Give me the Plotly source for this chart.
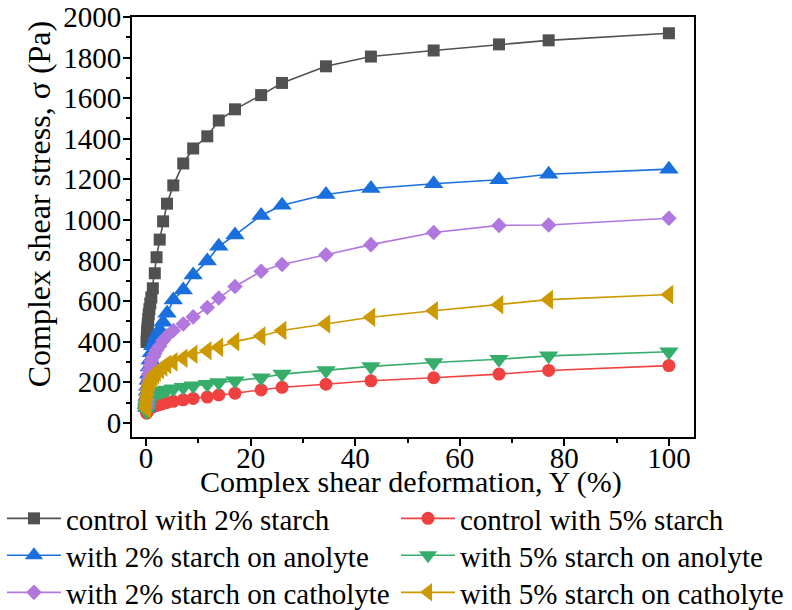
import plotly.graph_objects as go

# Shear strain amplitude sweep (%), shared by all samples
strain = [0.1, 0.126, 0.158, 0.2, 0.251, 0.316, 0.398, 0.501, 0.631, 0.794,
          1.0, 1.28, 1.66, 2.0, 2.6, 3.25, 4.0, 5.2, 7.1, 9.0,
          11.7, 13.9, 17.0, 22.0, 26.0, 34.4, 43.0, 55.0, 67.5, 77.0, 100.0]

# Complex shear stress (Pa) for each sample
control_2 = [398, 412, 428, 445, 465, 487, 510, 535, 560, 588,
             618, 663, 737, 816, 903, 993, 1080, 1170, 1278, 1352,
             1412, 1490, 1545, 1615, 1675, 1757, 1805, 1835, 1865, 1885, 1920]
control_5 = [48, 50, 53, 56, 59, 62, 65, 68, 71, 74,
             77, 80, 83, 86, 90, 95, 100, 106, 113, 120,
             127, 137, 146, 162, 175, 190, 207, 222, 240, 258, 282]
anolyte_2 = [75, 90, 110, 130, 155, 180, 210, 240, 275, 310,
             345, 380, 405, 430, 458, 495, 540, 605, 655, 728,
             798, 870, 925, 1022, 1072, 1125, 1155, 1178, 1198, 1225, 1250]
anolyte_5 = [55, 62, 70, 78, 86, 94, 102, 110, 117, 124,
             130, 136, 141, 146, 152, 157, 162, 168, 175, 182,
             190, 198, 207, 222, 240, 258, 278, 297, 313, 330, 350]
catholyte_2 = [75, 95, 115, 140, 165, 190, 215, 240, 262, 285,
               305, 322, 340, 358, 378, 405, 428, 455, 487, 522,
               568, 615, 672, 747, 780, 828, 878, 938, 973, 975, 1008]
catholyte_5 = [68, 80, 95, 110, 125, 140, 155, 170, 185, 198,
               210, 225, 238, 250, 262, 275, 288, 300, 318, 338,
               355, 372, 400, 428, 455, 487, 520, 552, 582, 607, 632]

# (label, values, colour, marker symbol, marker size)
series = [
    ("control with 2% starch", control_2, "#515151", "square", 12),
    ("control with 5% starch", control_5, "#F14040", "circle", 13),
    ("with 2% starch on anolyte", anolyte_2, "#1A6FDF", "triangle-up", 17),
    ("with 5% starch on anolyte", anolyte_5, "#37AD6B", "triangle-down", 17),
    ("with 2% starch on catholyte", catholyte_2, "#B177DE", "diamond", 12),
    ("with 5% starch on catholyte", catholyte_5, "#CC9900", "triangle-left", 17),
]

FONT = "Liberation Serif, Times New Roman, serif"
FS = 29

fig = go.Figure()
for i, (name, vals, color, symbol, size) in enumerate(series):
    fig.add_trace(go.Scatter(
        x=strain, y=vals, name=name, mode="lines+markers",
        legend="legend" if i == 0 else f"legend{i + 1}",
        line=dict(color=color, width=1.6),
        marker=dict(symbol=symbol, size=size, color=color, line=dict(width=0)),
    ))

axis_common = dict(
    showline=True, linecolor="black", linewidth=2, mirror=True,
    ticks="outside", ticklen=7, tickwidth=2, tickcolor="black",
    showgrid=False, zeroline=False,
    tickfont=dict(family=FONT, size=FS, color="black"),
)

fig.update_xaxes(
    range=[-2.7, 104.8], tickvals=[0, 20, 40, 60, 80, 100],
    ticklabelstandoff=-13,
    minor=dict(dtick=10, tick0=0, ticks="outside", ticklen=4, tickwidth=2, tickcolor="black"),
    **axis_common,
)
fig.update_yaxes(
    range=[-70, 2000], dtick=200, tick0=0,
    ticklabelstandoff=-4,
    minor=dict(dtick=100, tick0=0, ticks="outside", ticklen=4, tickwidth=2, tickcolor="black"),
    **axis_common,
)

fig.add_annotation(
    text="Complex shear stress, σ (Pa)", textangle=-90,
    xref="paper", yref="paper", x=-0.164, y=0.556,
    xanchor="center", yanchor="middle", showarrow=False,
    font=dict(family=FONT, size=32, color="black"),
)
fig.add_annotation(
    text="Complex shear deformation, Y (%)",
    xref="paper", yref="paper", x=0.496, y=-0.108,
    xanchor="center", yanchor="middle", showarrow=False,
    font=dict(family=FONT, size=30, color="black"),
)

# Two columns of three rows, one single-entry legend per slot
col_x = [0.0025, 0.5]
row_y = [0.1918, 0.1312, 0.0705]
legends = {}
for i in range(len(series)):
    key = "legend" if i == 0 else f"legend{i + 1}"
    legends[key] = dict(
        orientation="v", xref="container", yref="container",
        x=col_x[i % 2], y=row_y[i // 2], xanchor="left", yanchor="top",
        itemwidth=54, tracegroupgap=0, itemsizing="trace",
        font=dict(family=FONT, size=FS, color="black"),
        bgcolor="rgba(0,0,0,0)", borderwidth=0,
    )

fig.update_layout(
    width=792, height=610,
    margin=dict(l=132, r=98, t=17, b=173, autoexpand=False),
    paper_bgcolor="white", plot_bgcolor="white",
    showlegend=True,
    **legends,
)

fig.write_html("out.html")
